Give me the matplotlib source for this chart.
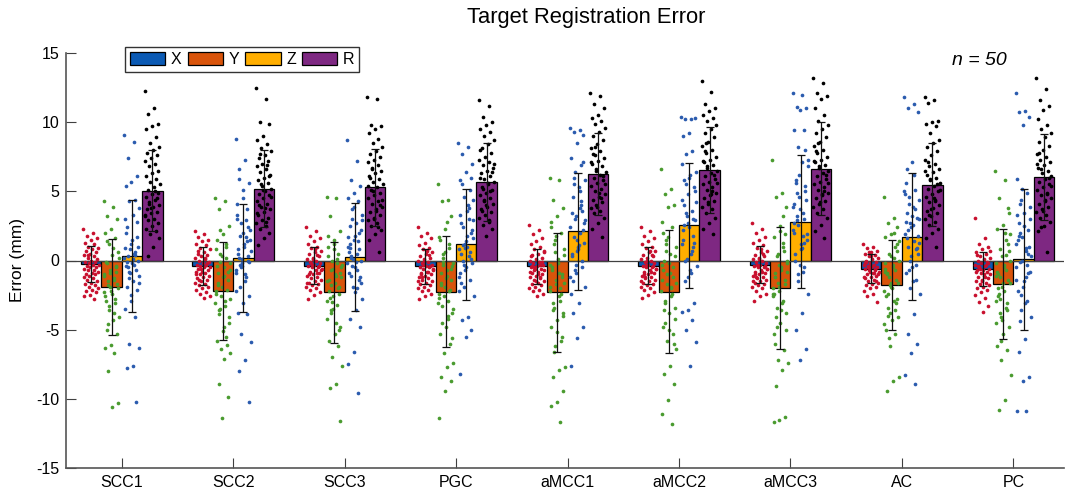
import numpy as np
import matplotlib
matplotlib.use("Agg")
import matplotlib.pyplot as plt
from matplotlib.patches import Patch

plt.rcParams['font.family'] = ['Liberation Sans', 'DejaVu Sans']
plt.rcParams['axes.unicode_minus'] = False

regions = ["SCC1", "SCC2", "SCC3", "PGC", "aMCC1", "aMCC2", "aMCC3", "AC", "PC"]
components = ["X", "Y", "Z", "R"]

mean_X = [-0.28, -0.37, -0.37, -0.42, -0.42, -0.37, -0.30, -0.59, -0.62]
mean_Y = [-1.94, -2.18, -2.30, -2.25, -2.30, -2.25, -1.97, -1.77, -1.70]
mean_Z = [0.33, 0.18, 0.25, 1.17, 2.11, 2.54, 2.81, 1.72, 0.09]
mean_R = [5.05, 5.19, 5.29, 5.65, 6.23, 6.54, 6.64, 5.46, 6.04]
sd_X = [1.30, 1.38, 1.33, 1.27, 1.28, 1.33, 1.36, 1.05, 1.20]
sd_Y = [3.47, 3.55, 3.65, 4.00, 4.28, 4.43, 4.42, 3.24, 4.00]
sd_Z = [4.06, 3.93, 3.90, 4.00, 4.25, 4.50, 4.80, 4.58, 5.10]
sd_R = [2.95, 2.80, 2.80, 2.82, 2.97, 3.10, 3.37, 3.00, 3.13]

# individual target errors (n = 50 per region)
pts_X = [
    [2.3, 2.0, 1.8, 1.6, 1.5, 1.3, 1.2, 1.0, 0.9, 0.8, 0.7, 0.6, 0.5, 0.4, 0.3, 0.2, 0.1, 0.0, -0.1, -0.1, -0.2, -0.3, -0.3, -0.4, -0.5, -0.5, -0.6, -0.7, -0.7, -0.8, -0.9, -1.0, -1.0, -1.1, -1.2, -1.3, -1.4, -1.5, -1.6, -1.7, -1.8, -1.9, -2.0, -2.1, -2.2, -2.3, -2.5, -2.6, -2.8, 0.4],
    [2.1, 1.9, 1.7, 1.5, 1.4, 1.2, 1.1, 0.9, 0.8, 0.6, 0.5, 0.4, 0.3, 0.2, 0.1, 0.0, -0.1, -0.2, -0.3, -0.3, -0.4, -0.5, -0.5, -0.6, -0.7, -0.8, -0.8, -0.9, -1.0, -1.1, -1.2, -1.3, -1.4, -1.5, -1.6, -1.7, -1.8, -1.9, -2.0, -2.1, -2.3, -2.4, -2.6, -2.7, 0.7, -0.2, -0.6, -1.0, 0.2, -1.4],
    [2.4, 2.1, 1.8, 1.6, 1.4, 1.2, 1.0, 0.9, 0.7, 0.6, 0.5, 0.3, 0.2, 0.1, 0.0, -0.1, -0.2, -0.3, -0.4, -0.5, -0.5, -0.6, -0.7, -0.8, -0.9, -1.0, -1.1, -1.2, -1.3, -1.4, -1.5, -1.6, -1.7, -1.8, -1.9, -2.0, -2.1, -2.3, -2.5, -2.8, 0.4, -0.3, -0.7, 0.8, -1.0, -0.4, 0.1, -1.6, -0.9, -0.2],
    [2.4, 2.0, 1.8, 1.6, 1.3, 1.1, 0.9, 0.8, 0.6, 0.5, 0.3, 0.2, 0.1, 0.0, -0.1, -0.2, -0.3, -0.4, -0.5, -0.5, -0.6, -0.7, -0.8, -0.9, -1.0, -1.1, -1.2, -1.3, -1.4, -1.5, -1.6, -1.7, -1.8, -1.9, -2.0, -2.1, -2.2, -2.4, -2.6, -2.8, 0.4, -0.3, -0.6, 0.7, -1.0, -0.4, 0.0, -1.5, -0.8, -1.2],
    [2.6, 2.2, 1.9, 1.6, 1.4, 1.2, 1.0, 0.8, 0.7, 0.5, 0.4, 0.2, 0.1, 0.0, -0.1, -0.2, -0.3, -0.4, -0.5, -0.6, -0.6, -0.7, -0.8, -0.9, -1.0, -1.1, -1.2, -1.3, -1.4, -1.5, -1.6, -1.7, -1.8, -1.9, -2.0, -2.1, -2.2, -2.4, -2.6, 0.3, -0.3, -0.7, 0.6, -1.0, -0.4, -0.1, -1.5, -0.8, -1.2, -0.5],
    [2.4, 2.1, 1.8, 1.6, 1.4, 1.2, 1.0, 0.9, 0.7, 0.6, 0.4, 0.3, 0.2, 0.1, 0.0, -0.1, -0.2, -0.3, -0.4, -0.5, -0.5, -0.6, -0.7, -0.8, -0.9, -1.0, -1.1, -1.2, -1.3, -1.4, -1.5, -1.6, -1.7, -1.8, -1.9, -2.0, -2.1, -2.3, -2.5, -2.7, 0.4, -0.3, -0.6, 0.7, -1.0, -0.4, 0.0, -1.5, -0.8, -1.2],
    [2.7, 2.3, 2.0, 1.7, 1.5, 1.3, 1.1, 0.9, 0.7, 0.6, 0.4, 0.3, 0.2, 0.1, 0.0, -0.1, -0.2, -0.3, -0.4, -0.5, -0.5, -0.6, -0.7, -0.8, -0.9, -1.0, -1.1, -1.2, -1.3, -1.4, -1.5, -1.6, -1.7, -1.8, -1.9, -2.0, -2.2, -2.4, -2.6, -2.9, 0.5, -0.3, -0.6, 0.8, -1.0, -0.4, 0.1, -1.5, -0.8, -1.2],
    [1.2, 1.0, 0.9, 0.7, 0.6, 0.5, 0.4, 0.3, 0.2, 0.1, 0.0, -0.1, -0.2, -0.3, -0.3, -0.4, -0.5, -0.5, -0.6, -0.7, -0.7, -0.8, -0.9, -1.0, -1.1, -1.2, -1.3, -1.4, -1.5, -1.6, -1.7, -1.8, -1.9, -2.0, -2.2, -2.4, -2.6, -3.0, 0.3, -0.2, -0.6, 0.6, -1.0, -0.4, -0.1, -1.5, -0.8, -1.2, -0.9, -0.5],
    [3.1, 1.6, 1.2, 1.0, 0.8, 0.6, 0.5, 0.3, 0.2, 0.1, 0.0, -0.1, -0.2, -0.3, -0.4, -0.5, -0.6, -0.7, -0.7, -0.8, -0.9, -1.0, -1.1, -1.2, -1.3, -1.4, -1.5, -1.6, -1.7, -1.8, -1.9, -2.0, -2.1, -2.3, -2.5, -2.7, -3.0, -3.3, -3.7, 0.4, -0.3, -0.6, 0.7, -1.0, -0.4, -0.2, -1.5, -0.8, -1.2, -0.5],
]
pts_Y = [
    [4.3, 3.9, 3.2, 3.0, 2.3, 2.0, 1.6, 1.2, 0.6, 0.4, -0.2, -0.4, -0.7, -1.0, -1.4, -1.8, -2.0, -2.4, -2.9, -3.1, -3.6, -4.1, -4.3, -5.0, -5.3, -6.1, -6.3, -6.7, -8.0, -10.3, -10.6, -0.1, -0.5, -0.9, -1.1, -1.3, -1.5, -1.7, -2.2, -2.6, -2.8, -3.3, 0.2, 0.9, 1.4, -0.8, -1.9, -2.3, -3.8, -4.6],
    [4.5, 4.3, 3.7, 2.5, 1.9, 1.5, 1.0, 0.5, -0.2, -0.5, -0.9, -1.4, -1.9, -2.4, -2.9, -3.6, -4.1, -5.1, -5.8, -6.1, -6.4, -6.7, -7.1, -8.9, -9.9, -11.4, 0.8, 0.2, -0.1, -0.7, -1.1, -1.6, -2.1, -2.6, -3.1, -3.3, -3.9, -4.5, -1.2, -0.4, 1.2, 2.2, -2.8, -4.8, -1.8, -0.8, 0.3, -2.2, -5.5, -3.5],
    [4.6, 4.5, 3.2, 2.1, 1.5, 1.0, 0.5, 0.0, -0.5, -1.0, -1.4, -1.9, -2.6, -2.9, -3.2, -3.8, -4.8, -5.3, -5.8, -6.2, -7.0, -7.6, -8.9, -9.2, -11.6, 0.8, 0.3, -0.2, -0.7, -1.2, -1.6, -2.2, -2.4, -3.5, -4.2, -4.5, -1.8, -0.9, 1.2, 1.8, -2.0, -3.0, -0.3, -1.1, -2.7, -5.0, -0.6, -1.5, 0.1, -3.6],
    [5.5, 4.4, 4.3, 3.2, 2.3, 1.7, 1.2, 0.5, -0.2, -0.7, -0.9, -1.4, -1.9, -2.4, -2.9, -3.3, -3.8, -4.8, -5.3, -6.0, -6.7, -7.4, -7.7, -8.4, -8.7, -9.4, -11.4, 0.9, 0.2, -0.4, -1.1, -1.6, -2.1, -2.6, -3.1, -4.2, -4.5, -5.6, -1.3, 1.5, -2.2, -0.1, -3.5, 2.8, -1.8, -0.6, 0.6, -2.7, -4.0, -0.3],
    [6.0, 5.8, 4.4, 3.8, 3.2, 2.8, 2.0, 1.5, 0.8, 0.1, -0.5, -1.0, -1.4, -1.9, -2.9, -3.4, -3.8, -4.3, -4.8, -5.8, -6.2, -7.7, -7.9, -8.4, -9.4, -10.2, -10.5, -11.7, 1.2, 0.4, -0.2, -0.7, -1.2, -1.7, -2.2, -2.6, -3.1, -4.0, -5.2, 2.4, -2.4, 0.6, -1.6, -0.9, -3.6, -5.5, 1.8, -0.3, -2.0, -6.6],
    [6.6, 5.2, 4.8, 4.0, 3.9, 2.8, 2.4, 1.5, 1.0, 0.5, 0.0, -0.5, -1.0, -1.4, -1.9, -2.9, -3.4, -3.8, -4.8, -5.3, -5.8, -6.4, -7.6, -8.2, -8.9, -10.1, -11.1, -11.8, 1.2, 0.3, -0.2, -0.7, -1.2, -1.7, -2.2, -2.6, -3.1, -4.2, -5.0, 2.0, -2.4, 0.7, -1.6, -0.9, -3.6, -6.0, 1.7, -0.3, -2.0, -4.5],
    [7.3, 4.9, 4.6, 3.9, 2.5, 1.7, 1.0, 0.5, 0.0, -0.5, -0.9, -1.4, -1.9, -2.4, -2.9, -3.4, -3.8, -4.5, -5.3, -6.5, -7.2, -7.4, -7.9, -9.1, -11.3, -11.5, -11.7, 1.3, 0.3, -0.2, -0.7, -1.2, -1.7, -2.2, -2.6, -3.1, -4.1, -5.0, 2.1, -2.4, 0.7, -1.6, -0.8, -3.6, -6.0, 1.9, -0.3, -2.0, 3.2, -4.8],
    [4.6, 3.1, 2.7, 2.4, 1.9, 1.7, 1.0, 0.5, 0.0, -0.5, -0.9, -1.4, -1.8, -2.2, -2.9, -3.4, -4.1, -4.3, -5.0, -5.3, -6.2, -8.4, -8.7, -9.4, 1.2, 0.3, -0.2, -0.7, -1.2, -1.6, -2.0, -2.6, -3.1, -3.8, -4.6, 2.0, -2.4, 0.7, -1.6, -0.8, -3.6, -5.6, 1.4, -0.3, -1.0, -2.8, -1.9, -0.6, 0.2, -4.0],
    [6.5, 5.8, 4.5, 3.4, 2.6, 2.3, 1.5, 0.8, 0.0, -0.5, -1.0, -1.4, -1.9, -2.9, -3.4, -3.8, -4.8, -5.3, -6.2, -6.5, -7.2, -8.3, -10.1, -10.8, 1.2, 0.3, -0.2, -0.7, -1.2, -1.6, -2.2, -2.6, -3.1, -4.1, -4.5, 2.0, -2.4, 0.7, -1.6, -0.8, -3.6, -5.8, 1.9, -0.3, -2.0, 3.8, -4.3, -1.1, 0.4, -2.8],
]
pts_Z = [
    [9.1, 8.6, 7.4, 6.1, 5.7, 5.4, 4.4, 4.3, 3.8, 3.3, 2.4, 1.7, 1.2, 0.9, 0.5, 0.3, 0.0, -0.2, -0.4, -0.7, -0.9, -1.1, -1.5, -1.9, -2.1, -2.9, -3.5, -4.1, -6.0, -6.3, -7.6, -7.8, -10.2, 0.8, 0.2, -0.3, -0.5, 1.0, 1.5, 2.0, 0.6, -1.3, -1.6, 0.1, -0.1, 2.8, -2.5, 3.0, 0.4, -0.8],
    [8.8, 7.3, 6.6, 5.6, 5.1, 4.1, 3.7, 2.7, 2.2, 1.2, 0.8, 0.3, -0.2, -0.7, -1.2, -1.9, -2.6, -3.1, -3.8, -3.9, -5.3, -5.9, -7.2, -8.0, -10.2, 4.5, 3.3, 2.9, 1.8, 1.5, 1.0, 0.5, 0.0, -0.4, -0.9, -1.5, 0.2, -0.1, 2.0, 3.0, 1.4, -0.5, 0.7, -1.0, 5.9, 2.4, 0.1, -2.2, 1.7, -0.3],
    [8.7, 7.2, 5.8, 5.4, 4.9, 4.5, 4.3, 3.7, 3.3, 2.7, 2.5, 2.0, 1.5, 1.0, 0.5, 0.3, 0.0, -0.5, -0.9, -1.4, -1.9, -2.8, -3.6, -4.2, -4.8, -6.6, -7.5, -9.6, 3.0, 2.2, 1.8, 1.2, 0.8, 0.1, -0.2, -0.7, -1.1, -1.6, -2.3, 0.6, 1.4, -0.4, 2.9, -0.1, 0.9, -1.2, 3.9, 1.7, -2.0, 0.2],
    [8.5, 8.2, 7.7, 7.0, 6.4, 5.8, 5.1, 4.6, 4.4, 3.6, 2.7, 2.0, 1.2, 0.8, 0.3, 0.0, -0.2, -0.5, -0.9, -1.4, -1.9, -2.6, -4.1, -4.3, -5.0, -5.5, -8.2, 3.0, 2.4, 1.6, 1.0, 0.5, 0.1, -0.7, -1.2, 4.0, 5.5, 2.2, 1.4, 3.3, 0.6, -0.3, 2.9, 1.8, -1.6, 6.0, 0.9, -2.2, 3.8, 1.1],
    [9.6, 9.4, 9.3, 9.1, 8.5, 7.4, 6.9, 6.4, 5.8, 5.3, 4.6, 3.6, 3.2, 2.4, 2.0, 1.7, 1.3, 0.8, 0.3, -0.5, -0.9, -1.9, -3.1, -3.8, -4.8, -5.6, -7.6, 4.0, 3.0, 2.7, 1.0, 0.5, 0.0, -0.3, -1.2, 5.0, 6.0, 2.2, 1.5, 3.4, 4.3, -0.7, 2.9, 1.1, -1.5, 7.1, 0.7, -2.4, 3.8, 5.5],
    [10.4, 10.2, 10.2, 10.3, 9.2, 9.0, 7.9, 7.7, 6.4, 6.2, 5.8, 5.3, 4.8, 4.4, 3.6, 3.4, 2.9, 2.4, 1.5, 1.0, 0.1, -0.4, -0.9, -1.5, -3.1, -3.6, -3.7, -4.3, -5.0, -5.9, -7.6, 4.0, 3.0, 2.7, 1.2, 0.5, 0.0, 5.0, 6.0, 2.2, 1.8, 3.2, 4.2, -0.7, 2.6, 1.3, -1.2, 7.0, 0.7, 5.5],
    [12.1, 12.0, 11.1, 11.0, 10.9, 9.4, 9.4, 8.2, 7.3, 7.1, 5.8, 5.4, 4.6, 3.9, 3.4, 2.9, 1.9, 1.2, 0.5, -0.5, -1.0, -2.4, -3.8, -5.0, -6.4, -7.2, 4.1, 3.0, 2.6, 1.5, 0.8, 0.0, 5.0, 6.2, 2.2, 1.8, 3.2, 4.4, -0.3, 2.7, 1.3, -1.5, 6.8, 0.9, 5.6, 8.0, 3.7, 2.0, -0.8, 4.9],
    [11.8, 11.3, 11.0, 10.7, 7.1, 5.6, 5.1, 4.6, 4.4, 3.9, 3.4, 3.1, 2.4, 1.9, 1.4, 1.0, 0.5, -0.5, -0.9, -1.4, -2.0, -2.4, -3.9, -5.3, -6.0, -6.7, -8.3, -8.9, 4.1, 3.0, 2.6, 1.6, 0.8, 0.0, 5.0, 6.2, 2.2, 1.8, 3.2, 2.8, -0.3, 2.7, 1.3, -1.5, 6.6, 0.9, 0.3, 4.8, 3.7, -0.7],
    [12.1, 10.8, 10.7, 10.4, 9.8, 5.9, 4.9, 4.4, 3.9, 3.4, 2.7, 2.2, 1.7, 1.2, 0.7, -0.1, -0.8, -1.5, -2.2, -2.9, -3.6, -4.1, -5.7, -6.6, -8.4, -8.7, -10.9, -10.9, 4.1, 3.0, 2.5, 1.5, 0.5, 0.0, -0.5, -1.2, 2.0, 1.0, -1.9, 3.3, -0.3, -2.5, 0.3, -3.1, 1.8, -0.9, 5.2, -1.4, 0.9, -4.4],
]
pts_R = [
    [12.25, 11.0, 10.6, 9.9, 9.7, 9.5, 8.9, 8.5, 8.2, 8.0, 7.8, 7.6, 7.4, 7.2, 7.0, 6.8, 6.5, 6.3, 6.1, 5.9, 5.7, 5.5, 5.3, 5.1, 4.9, 4.8, 4.6, 4.4, 4.2, 4.0, 3.9, 3.7, 3.5, 3.4, 3.2, 3.0, 2.9, 2.7, 2.5, 2.3, 2.1, 1.9, 1.6, 1.0, 0.3, 4.5, 3.8, 3.3, 5.0, 4.1],
    [12.5, 11.7, 10.0, 9.9, 9.0, 8.7, 8.4, 8.1, 7.9, 7.6, 7.4, 7.2, 7.0, 6.8, 6.6, 6.4, 6.2, 6.0, 5.8, 5.6, 5.4, 5.2, 5.0, 4.8, 4.7, 4.5, 4.3, 4.1, 3.9, 3.7, 3.5, 3.3, 3.1, 2.9, 2.7, 2.5, 2.3, 2.0, 1.6, 1.1, 6.9, 5.5, 4.6, 3.8, 4.0, 6.1, 5.1, 3.4, 2.8, 7.7],
    [11.8, 11.7, 9.8, 9.7, 9.5, 9.2, 8.8, 8.5, 8.2, 7.9, 7.7, 7.5, 7.3, 7.1, 6.9, 6.7, 6.5, 6.3, 6.1, 5.9, 5.7, 5.5, 5.3, 5.1, 4.9, 4.7, 4.5, 4.3, 4.1, 3.9, 3.7, 3.5, 3.3, 3.1, 2.9, 2.7, 2.5, 2.2, 1.9, 1.5, 0.6, 5.0, 4.4, 3.6, 6.0, 4.0, 3.0, 5.4, 2.4, 6.6],
    [11.6, 11.2, 10.4, 10.0, 9.8, 9.5, 9.3, 9.0, 8.7, 8.4, 8.1, 7.8, 7.5, 7.3, 7.1, 6.9, 6.7, 6.5, 6.3, 6.1, 5.9, 5.7, 5.5, 5.3, 5.1, 4.9, 4.7, 4.5, 4.3, 4.1, 3.9, 3.7, 3.5, 3.3, 3.1, 2.9, 2.6, 2.3, 1.8, 6.0, 5.0, 4.4, 7.0, 5.6, 3.6, 6.4, 4.0, 8.0, 2.8, 5.2],
    [12.1, 11.9, 11.3, 11.0, 10.5, 10.3, 10.1, 9.9, 9.6, 9.3, 9.0, 8.7, 8.4, 8.1, 7.9, 7.6, 7.4, 7.2, 7.0, 6.8, 6.6, 6.4, 6.2, 6.0, 5.8, 5.6, 5.4, 5.2, 5.0, 4.8, 4.6, 4.4, 4.2, 4.0, 3.8, 3.6, 3.4, 3.1, 2.7, 2.3, 1.7, 6.5, 5.5, 4.9, 7.7, 6.1, 3.9, 7.1, 4.5, 8.2],
    [13.0, 12.2, 11.3, 11.0, 10.8, 10.5, 10.3, 10.1, 9.8, 9.5, 9.2, 8.9, 8.6, 8.3, 8.0, 7.8, 7.5, 7.3, 7.1, 6.9, 6.7, 6.5, 6.3, 6.1, 5.9, 5.7, 5.5, 5.3, 5.1, 4.9, 4.7, 4.5, 4.3, 4.1, 3.9, 3.7, 3.4, 3.1, 2.7, 2.3, 1.9, 6.8, 5.6, 4.8, 7.9, 6.2, 4.2, 7.2, 5.0, 8.5],
    [13.2, 12.8, 12.1, 11.9, 11.7, 11.0, 10.5, 10.1, 9.8, 9.5, 9.2, 8.9, 8.6, 8.3, 8.0, 7.8, 7.5, 7.3, 7.1, 6.9, 6.7, 6.5, 6.3, 6.1, 5.9, 5.7, 5.5, 5.3, 5.1, 4.9, 4.7, 4.5, 4.3, 4.1, 3.9, 3.7, 3.4, 3.1, 2.6, 2.1, 1.6, 6.8, 5.6, 4.8, 7.9, 6.2, 4.2, 7.2, 5.0, 8.5],
    [11.8, 11.6, 11.4, 10.1, 10.0, 9.9, 9.7, 9.2, 8.7, 8.5, 8.2, 7.9, 7.6, 7.3, 7.0, 6.8, 6.6, 6.4, 6.2, 6.0, 5.8, 5.6, 5.4, 5.2, 5.0, 4.8, 4.6, 4.4, 4.2, 4.0, 3.8, 3.6, 3.4, 3.2, 3.0, 2.8, 2.6, 2.3, 2.0, 1.6, 1.0, 5.9, 5.1, 4.5, 7.1, 5.5, 3.7, 6.5, 4.3, 3.3],
    [13.2, 12.4, 11.6, 11.2, 10.9, 10.2, 9.8, 9.5, 9.2, 8.9, 8.6, 8.3, 8.0, 7.7, 7.5, 7.3, 7.1, 6.9, 6.7, 6.5, 6.3, 6.1, 5.9, 5.7, 5.5, 5.3, 5.1, 4.9, 4.7, 4.5, 4.3, 4.1, 3.9, 3.7, 3.5, 3.3, 3.1, 2.8, 2.5, 2.1, 0.6, 6.6, 5.4, 4.4, 7.8, 6.0, 3.6, 7.0, 4.8, 2.4],
]

bar_colors = ["#0B5AB4", "#D9540B", "#FFAE00", "#7E2882"]
dot_colors = ["#C8102E", "#4A9B2F", "#2B5BAE", "#000000"]

means = [mean_X, mean_Y, mean_Z, mean_R]
sds = [sd_X, sd_Y, sd_Z, sd_R]
pts = [pts_X, pts_Y, pts_Z, pts_R]

fig = plt.figure(figsize=(10.65, 4.96), dpi=100)
ax = fig.add_axes([66 / 1065, 28 / 496, 998 / 1065, 415 / 496])

x = np.arange(1, len(regions) + 1)
bw = 0.183
offsets = [-1.5 * bw, -0.5 * bw, 0.5 * bw, 1.5 * bw]

for k in range(4):
    ax.bar(x + offsets[k], means[k], width=bw, color=bar_colors[k],
           edgecolor="black", linewidth=0.9, zorder=2)

ax.axhline(0, color="#404040", linewidth=0.9, zorder=2.5)

n = 50
jit = ((np.arange(n) * 0.6180339887) % 1.0 - 0.5) * 0.14
for k in range(4):
    for g in range(len(regions)):
        vals = np.asarray(pts[k][g])
        ax.scatter(x[g] + offsets[k] + jit[:len(vals)], vals, s=7,
                   color=dot_colors[k], linewidths=0, zorder=3)

for k in range(4):
    ax.errorbar(x + offsets[k], means[k], yerr=sds[k], fmt="none",
                ecolor="#111111", elinewidth=0.9, capsize=3, capthick=0.9,
                zorder=4)

ax.set_xlim(0.5, 0.5 + 998 / 111.45)
ax.set_ylim(-15, 15)
ax.set_yticks([-15, -10, -5, 0, 5, 10, 15])
ax.set_xticks(x)
ax.set_xticklabels(regions)
ax.tick_params(axis="both", direction="in", length=7, width=0.8,
               color="#404040", labelsize=11.5, labelcolor="black")
ax.tick_params(axis="y", pad=5)
ax.tick_params(axis="x", pad=5)
for s in ["top", "right"]:
    ax.spines[s].set_visible(False)
for s in ["left", "bottom"]:
    ax.spines[s].set_color("#555555")
    ax.spines[s].set_linewidth(1.2)

ax.set_ylabel("Error (mm)", fontsize=12.5, labelpad=8)
fig.text(586 / 1065, 1 - 18 / 496, "Target Registration Error", ha="center",
         va="center", fontsize=15.8)
ax.text(0.915, 0.983, "n = 50", transform=ax.transAxes, ha="center",
        va="center", fontsize=14, style="italic")

handles = [Patch(facecolor=c, edgecolor="black", linewidth=0.9) for c in bar_colors]
leg = ax.legend(handles, components, loc="upper left",
                bbox_to_anchor=((125 - 66) / 998, (468 - 47) / 415),
                ncol=4, fontsize=11.5, frameon=True, fancybox=False,
                handlelength=2.2, handleheight=0.9, handletextpad=0.35,
                columnspacing=0.4, borderpad=0.3, borderaxespad=0)
leg.get_frame().set_edgecolor("#333333")
leg.get_frame().set_linewidth(1.0)
leg.get_frame().set_alpha(1)

fig.savefig("out.png", dpi=100)
